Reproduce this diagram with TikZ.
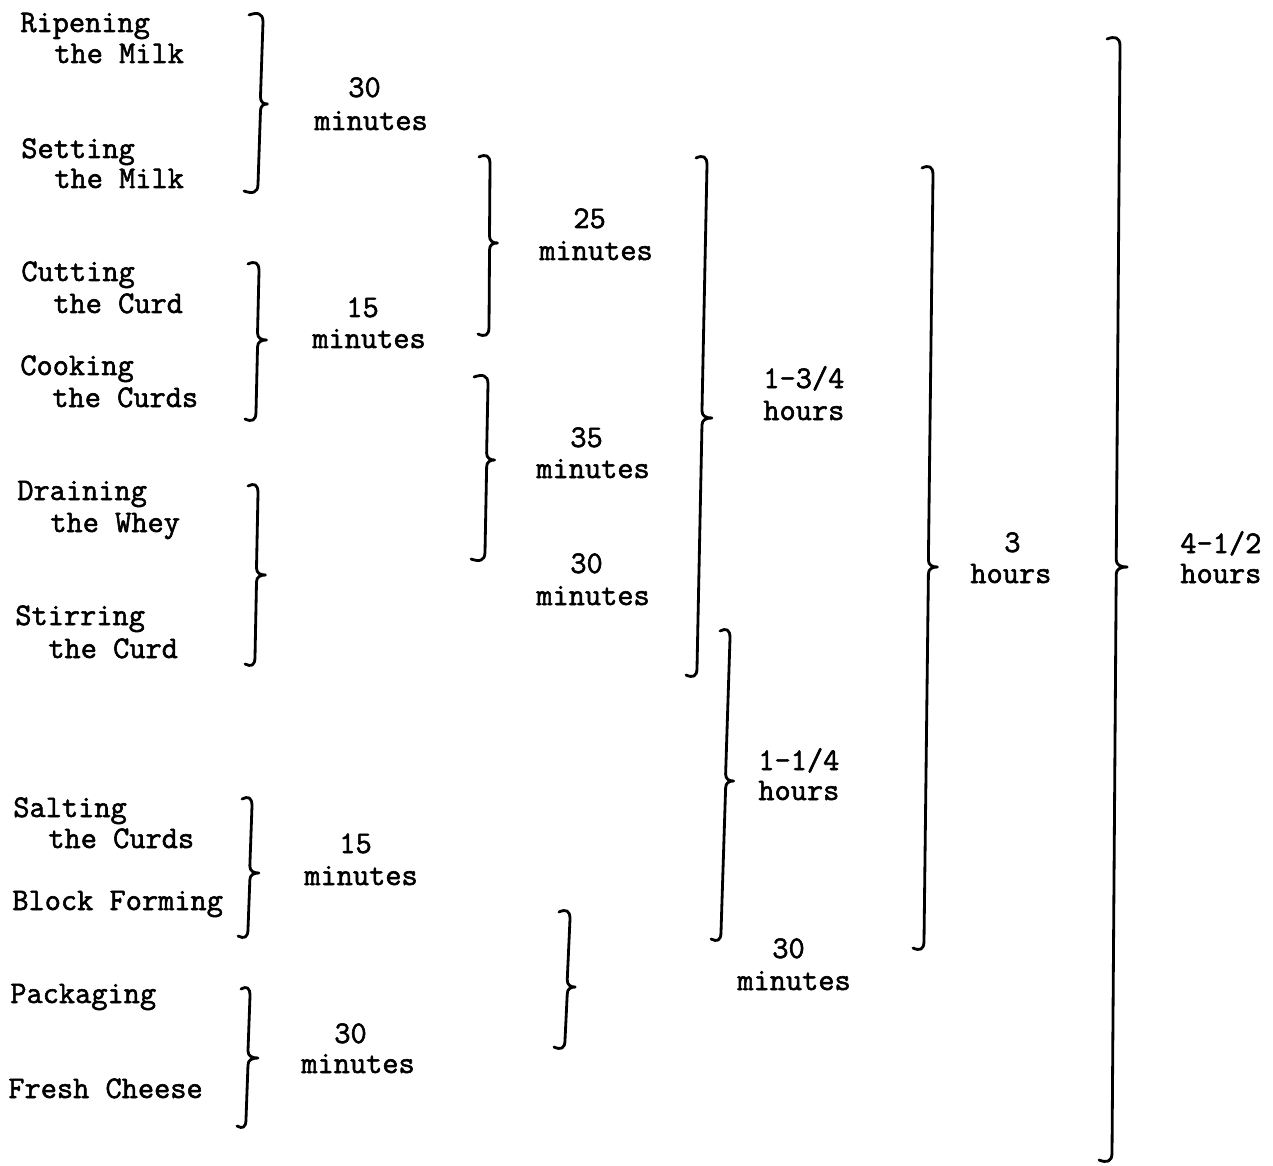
\documentclass[tikz,border=0pt]{standalone}
\usepackage{fontspec}
\newfontfamily\tw{Latin Modern Mono}[FakeBold=1.8]
\tikzset{
  brc/.style={line width=1.6pt, line cap=round, line join=round},
  txt/.style={anchor=base west, inner sep=0pt, font=\tw\fontsize{17.9}{18}\selectfont}
}
% curly brace: x top, y top, x bottom, y bottom, y tip, tip width, hook width
\newcommand\curly[7]{%
  \pgfmathsetmacro\cxm{#1+(#3-#1)*(#5-#2)/(#4-#2)}%
  \draw[brc] (#1-#7,#2+2) .. controls (#1-0.4*#7,#2-1) and (#1,#2) .. (#1,#2+9)
    -- (\cxm,#5-7) .. controls (\cxm,#5-2) and (\cxm+0.4*#6,#5) .. (\cxm+#6,#5)
    .. controls (\cxm+0.4*#6,#5) and (\cxm,#5+2) .. (\cxm,#5+7)
    -- (#3,#4-9) .. controls (#3,#4) and (#3-0.4*#7,#4+1) .. (#3-#7,#4-2);}
\begin{document}
\begin{tikzpicture}[x=0.02cm, y=-0.02cm]
\fill[white] (0,0) rectangle (1273,1165);
\useasboundingbox (0,0) rectangle (1273,1165);

% steps
\node[txt] (t1a) at (20,32) {Ripening};
\node[txt] (t1b) at (54,63) {the Milk};
\node[txt] (t2a) at (21,158) {Setting};
\node[txt] (t2b) at (54,188) {the Milk};
\node[txt] (t3a) at (21,281) {Cutting};
\node[txt] (t3b) at (53,313) {the Curd};
\node[txt] (t4a) at (20,375) {Cooking};
\node[txt] (t4b) at (52,407) {the Curds};
\node[txt] (t5a) at (17,500) {Draining};
\node[txt] (t5b) at (50,532) {the Whey};
\node[txt] (t6a) at (15,625) {Stirring};
\node[txt] (t6b) at (48,658) {the Curd};
\node[txt] (t7a) at (13,817) {Salting};
\node[txt] (t7b) at (48,848) {the Curds};
\node[txt] (t8) at (12,910) {Block Forming};
\node[txt] (t9) at (10,1003) {Packaging};
\node[txt] (t10) at (8,1098) {Fresh Cheese};

% durations
\node[txt] (l1a) at (348,97) {30};
\node[txt] (l1b) at (314,130) {minutes};
\node[txt] (l2a) at (346,317) {15};
\node[txt] (l2b) at (312,348) {minutes};
\node[txt] (l3a) at (573,228) {25};
\node[txt] (l3b) at (539,260) {minutes};
\node[txt] (l4a) at (570,447) {35};
\node[txt] (l4b) at (536,478) {minutes};
\node[txt] (l5a) at (570,573) {30};
\node[txt] (l5b) at (536,605) {minutes};
\node[txt] (l6a) at (763,388) {1-3/4};
\node[txt] (l6b) at (763,420) {hours};
\node[txt] (l7a) at (758,770) {1-1/4};
\node[txt] (l7b) at (758,800) {hours};
\node[txt] (l8a) at (772,958) {30};
\node[txt] (l8b) at (737,990) {minutes};
\node[txt] (l9a) at (1004,552) {3};
\node[txt] (l9b) at (970,583) {hours};
\node[txt] (l10a) at (1180,553) {4-1/2};
\node[txt] (l10b) at (1180,583) {hours};
\node[txt] (l11a) at (339,853) {15};
\node[txt] (l11b) at (304,885) {minutes};
\node[txt] (l12a) at (334,1043) {30};
\node[txt] (l12b) at (301,1073) {minutes};

% braces
\curly{263}{13}{258}{193}{104}{7}{14}
\curly{259}{262}{256}{421}{340}{9}{11}
\curly{258}{484}{255}{666}{575}{9}{10}
\curly{490}{155}{489}{336}{243}{8}{11}
\curly{488}{375}{485}{561}{460}{8}{14}
\curly{707}{156}{697}{677}{418}{10}{11}
\curly{730}{629}{721}{941}{781}{8}{10}
\curly{933}{166}{924}{950}{567}{9}{11}
\curly{1120}{37}{1112}{1162}{567}{11}{13}
\curly{252}{797}{248}{938}{873}{9}{10}
\curly{570}{910}{565}{1049}{987}{8}{11}
\curly{250}{987}{246}{1128}{1058}{10}{9}
\end{tikzpicture}
\end{document}
